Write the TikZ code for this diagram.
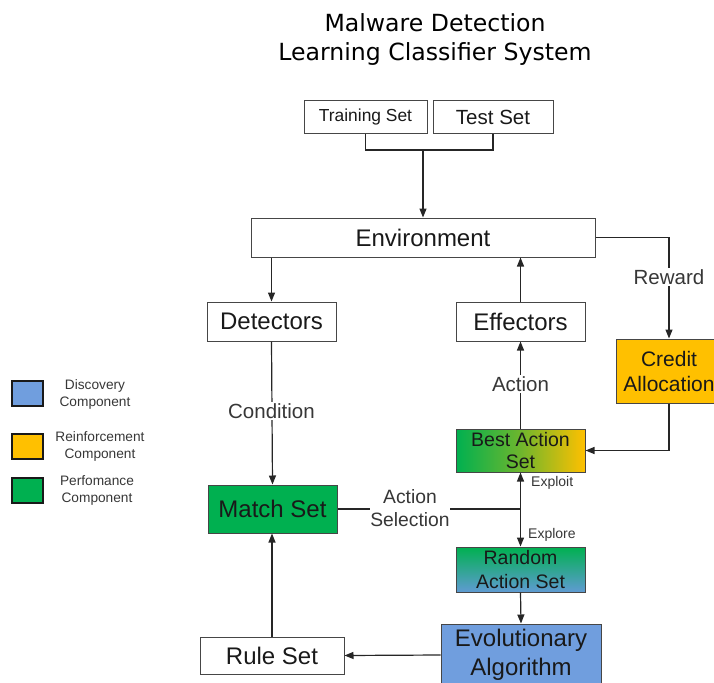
\documentclass[tikz,border=0pt]{standalone}
\usepackage{fontspec}
\setmainfont{Liberation Sans}
\newfontfamily\titlefont{DejaVu Sans}
\usetikzlibrary{arrows.meta}
\definecolor{gr}{RGB}{0,176,80}
\definecolor{og}{RGB}{255,192,0}
\definecolor{bl}{RGB}{112,158,222}
\definecolor{rb}{RGB}{95,155,210}
\definecolor{bd}{RGB}{70,70,70}
\definecolor{tx}{RGB}{25,25,25}
\definecolor{lt}{RGB}{55,55,55}
\tikzset{
  box/.style={draw=bd, line width=1pt, rectangle, inner sep=0pt, align=center, text=tx},
  big/.style={font=\fontsize{24}{29}\selectfont},
  mid/.style={font=\fontsize{19.5}{23.5}\selectfont},
  conn/.style={draw=black!85, line width=1.2pt},
  arr/.style={conn, -{Triangle[length=9pt,width=7pt]}},
  lbl/.style={fill=white, inner sep=1.5pt, text=lt, font=\fontsize{20.5}{23}\selectfont},
  small/.style={inner sep=0pt, text=lt, font=\fontsize{14}{16}\selectfont},
  leg/.style={draw=black!90, line width=1.5pt, minimum width=31pt, minimum height=25pt, inner sep=0pt},
  legt/.style={align=center, text=lt, font=\fontsize{13.7}{17}\selectfont}
}
\begin{document}
\begin{tikzpicture}[x=1pt,y=-1pt]
\useasboundingbox (0,0) rectangle (714,682);
% title
\node[font=\titlefont\fontsize{23.6}{29}\selectfont, align=center, text=black] (title) at (435,39) {Malware Detection\\Learning Classifier System};
% nodes
\node[box, minimum width=123pt, minimum height=32pt, font=\fontsize{17.4}{20}\selectfont] (train) at (365.5,117) {Training Set};
\node[box, minimum width=120pt, minimum height=32pt, font=\fontsize{20.5}{24}\selectfont] (test) at (493,117) {Test Set};
\node[box, big, minimum width=344pt, minimum height=39pt] (env) at (423,237.5) {Environment};
\node[box, big, minimum width=129pt, minimum height=39pt] (det) at (271.5,321.5) {Detectors};
\node[box, big, minimum width=129pt, minimum height=39pt] (eff) at (520.5,321.5) {Effectors};
\node[box, fill=og, minimum width=106pt, minimum height=64pt, font=\fontsize{21}{25}\selectfont] (credit) at (669,371) {Credit\\Allocation};
\node[box, mid, left color=gr, right color=og, middle color={rgb,255:red,110;green,182;blue,45}, minimum width=129pt, minimum height=43pt] (best) at (520.5,450.5) {Best Action\\[-1pt]Set};
\node[box, big, fill=gr, minimum width=129pt, minimum height=48pt] (match) at (272.5,509) {Match Set};
\node[box, mid, top color=gr, bottom color=rb, minimum width=129pt, minimum height=45pt] (random) at (520.5,569.5) {Random\\Action Set};
\node[box, big, fill=bl, minimum width=160pt, minimum height=62pt] (evo) at (521,655) {Evolutionary\\Algorithm};
\node[box, big, minimum width=144pt, minimum height=37pt] (rule) at (272,655.5) {Rule Set};
% legend
\node[leg, fill=bl] (lb) at (27.5,393.5) {};
\node[leg, fill=og] (lo) at (27.5,446.5) {};
\node[leg, fill=gr] (lg) at (27.5,490.5) {};
\node[legt] (lbt) at (95,394.5) {Discovery\\Component};
\node[legt] (lot) at (100,446.5) {Reinforcement\\Component};
\node[legt] (lgt) at (97,490.5) {Perfomance\\Component};
% coordinates
\coordinate (jt) at (423,150);
\coordinate (js) at (520.5,509);
% connectors
\draw[conn] (train.south) |- (jt) -| (test.south);
\draw[arr] (jt) -- (env.north);
\draw[arr] (env.south -| det.north) -- (det.north);
\draw[arr] (eff.north) -- (eff.north |- env.south);
\draw[arr] (env.east) -| (credit.north);
\node[lbl] (rew) at (669,277) {Reward};
\draw[arr] (credit.south) |- (best.east);
\draw[arr] (best.north) -- (eff.south);
\node[lbl] (act) at (520.5,384) {Action};
\draw[arr] (det.south) -- (match.north);
\node[lbl] (cond) at (271.5,411) {Condition};
\draw[conn] (match.east) -- (js);
\node[lbl, align=center, font=\fontsize{19.3}{23}\selectfont, inner sep=0pt] (asel) at (410,508) {Action\\Selection};
\draw[arr] (js) -- (best.south);
\node[small, anchor=west] (expl) at (531,483) {Exploit};
\draw[arr] (js) -- (random.north);
\node[small, anchor=west] (explr) at (528,535) {Explore};
\draw[arr] (random.south) -- (evo.north);
\draw[arr] (evo.west) -- (rule.east);
\draw[arr] (rule.north) -- (rule.north |- match.south);
\end{tikzpicture}
\end{document}
